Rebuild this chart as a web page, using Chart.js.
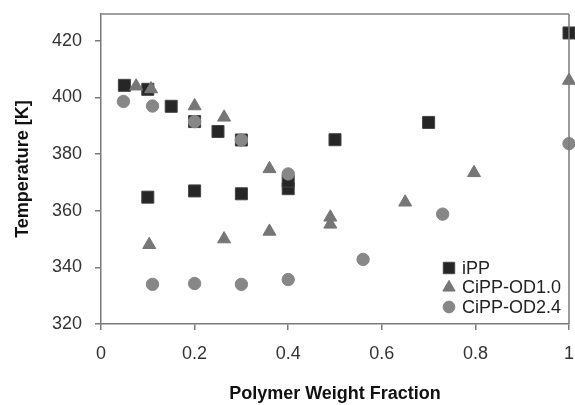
<!DOCTYPE html>
<html>
<head>
<meta charset="utf-8">
<script src="https://cdn.jsdelivr.net/npm/chart.js@4"></script>
<style>
  html, body { margin: 0; padding: 0; background: #fff; }
  #wrap { width: 575px; height: 405px; position: relative; }
</style>
</head>
<body>
<div id="wrap"><canvas id="c" width="575" height="405"></canvas></div>
<script>
// Data
const seriesNames = ["iPP", "CiPP-OD1.0", "CiPP-OD2.4"];
const iPP_x = [0.05, 0.10, 0.15, 0.20, 0.25, 0.30, 0.50, 0.70, 1.00, 0.10, 0.20, 0.30, 0.40, 0.40];
const iPP_y = [404.3, 402.9, 396.9, 391.5, 388.0, 385.0, 385.1, 391.2, 422.8, 364.8, 367.0, 366.0, 367.8, 370.5];
const od10_x = [0.075, 0.107, 0.20, 0.263, 0.36, 0.103, 0.263, 0.36, 0.49, 0.49, 0.65, 0.797, 1.00];
const od10_y = [404.0, 403.0, 397.0, 393.0, 374.8, 348.0, 350.0, 352.7, 357.7, 355.2, 363.0, 373.4, 406.0];
const od24_x = [0.048, 0.11, 0.20, 0.30, 0.40, 0.11, 0.20, 0.30, 0.40, 0.56, 0.73, 1.00];
const od24_y = [398.6, 397.0, 391.5, 385.0, 373.0, 334.0, 334.3, 334.0, 335.7, 342.8, 358.8, 383.7];
const xTicks = [0, 0.2, 0.4, 0.6, 0.8, 1];
const yTicks = [320, 340, 360, 380, 400, 420];

function pts(xs, ys) { return xs.map((x, i) => ({ x: x, y: ys[i] })); }

const FONT = '"Liberation Sans", Arial, sans-serif';

const styles = [
  { pointStyle: 'rect', radius: 8.5, bg: '#262626', border: '#444444' },
  { pointStyle: 'triangle', radius: 7.5, bg: '#767676', border: '#767676' },
  { pointStyle: 'circle', radius: 6.2, bg: '#878787', border: '#878787' }
];

const seriesData = [pts(iPP_x, iPP_y), pts(od10_x, od10_y), pts(od24_x, od24_y)];

const datasets = seriesNames.map((name, i) => ({
  label: name,
  data: seriesData[i],
  pointStyle: styles[i].pointStyle,
  pointRadius: styles[i].radius,
  pointHoverRadius: styles[i].radius,
  backgroundColor: styles[i].bg,
  borderColor: styles[i].border,
  borderWidth: 1,
  showLine: false,
  clip: 12,
  order: 2 - i
}));

const boxPlugin = {
  id: 'box',
  afterDatasetsDraw(chart) {
    const { ctx, chartArea: a } = chart;
    ctx.save();
    ctx.strokeStyle = '#a0a0a0';
    ctx.lineWidth = 2;
    ctx.beginPath();
    ctx.moveTo(a.left, a.top);
    ctx.lineTo(a.right, a.top);
    ctx.stroke();
    ctx.strokeStyle = '#7a7a7a';
    ctx.lineWidth = 1.5;
    ctx.beginPath();
    ctx.moveTo(a.right, a.top);
    ctx.lineTo(a.right, a.bottom);
    ctx.stroke();
    ctx.restore();
  },
  afterDraw(chart) {
    const { ctx } = chart;
    ctx.save();
    ctx.font = '18px ' + FONT;
    ctx.textBaseline = 'middle';
    const x0 = 449, y0 = 268, dy = 19.5;
    seriesNames.forEach((name, i) => {
      const y = y0 + i * dy;
      const s = styles[i];
      ctx.fillStyle = s.bg;
      ctx.strokeStyle = s.border;
      ctx.lineWidth = 1;
      Chart.helpers.drawPoint(ctx, { pointStyle: s.pointStyle, radius: s.radius * 0.95, borderWidth: 1 }, x0, y);
      ctx.fillStyle = '#222';
      ctx.fillText(name, x0 + 13, y + 1);
    });
    ctx.restore();
  }
};

new Chart(document.getElementById('c'), {
  type: 'scatter',
  data: { datasets: datasets },
  plugins: [boxPlugin],
  options: {
    responsive: false,
    animation: false,
    layout: { autoPadding: false, padding: { top: 14, right: 6, left: 0, bottom: 0 } },
    plugins: { legend: { display: false }, tooltip: { enabled: false } },
    scales: {
      x: {
        type: 'linear',
        min: 0, max: 1,
        afterBuildTicks(scale) { scale.ticks = xTicks.map(v => ({ value: v })); },
        afterFit(scale) { scale.height = 81; scale.paddingLeft = 0; scale.paddingRight = 0; },
        grid: { drawOnChartArea: false, drawTicks: true, tickLength: 6, color: '#7a7a7a', lineWidth: 1.5 },
        border: { color: '#7a7a7a', width: 1.5 },
        ticks: {
          color: '#333',
          font: { family: FONT, size: 18 },
          padding: 13,
          maxRotation: 0,
          callback: v => String(v)
        },
        title: {
          display: true,
          text: 'Polymer Weight Fraction',
          color: '#111',
          font: { family: FONT, size: 18, weight: 'bold' },
          padding: { top: 10, bottom: 0 }
        }
      },
      y: {
        type: 'linear',
        min: 320, max: 429.5,
        afterBuildTicks(scale) { scale.ticks = yTicks.map(v => ({ value: v })); },
        afterFit(scale) { scale.width = 101; scale.paddingTop = 0; scale.paddingBottom = 0; },
        grid: { drawOnChartArea: false, drawTicks: true, tickLength: 6, color: '#7a7a7a', lineWidth: 1.5 },
        border: { color: '#7a7a7a', width: 1.5 },
        ticks: {
          color: '#333',
          font: { family: FONT, size: 18 },
          padding: 13,
          callback: v => String(v)
        },
        title: {
          display: true,
          text: 'Temperature [K]',
          color: '#111',
          font: { family: FONT, size: 18, weight: 'bold' },
          padding: { top: 12, bottom: 0 }
        }
      }
    }
  }
});
</script>
</body>
</html>
